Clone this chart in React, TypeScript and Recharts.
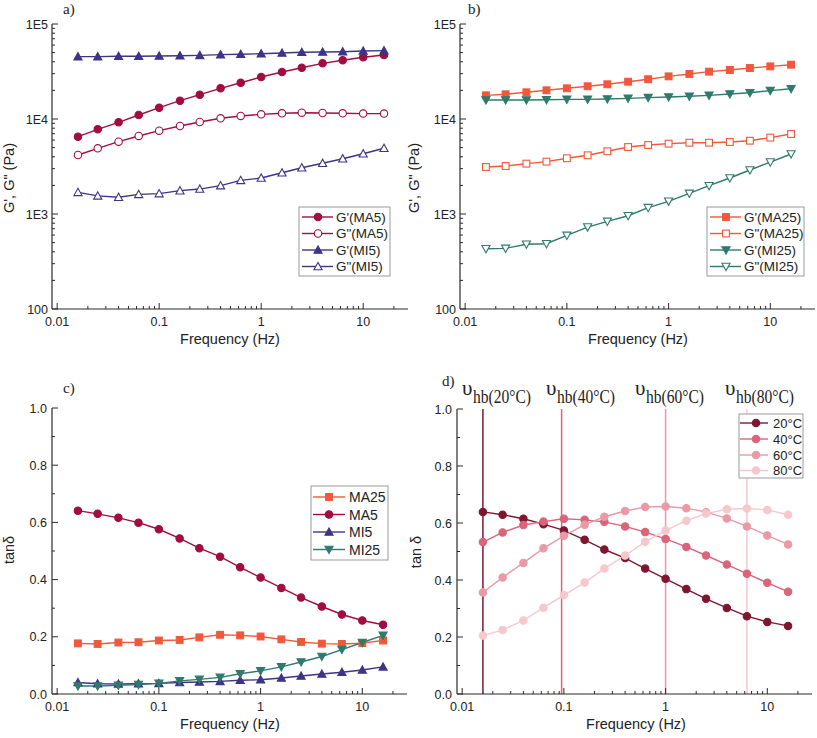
import React from "react";
import { LineChart, Line, XAxis, YAxis, ReferenceLine } from "recharts";

// frequency sweep (Hz)
const freq = [0.016, 0.025, 0.04, 0.063, 0.1, 0.16, 0.25, 0.4, 0.63, 1, 1.6, 2.5, 4, 6.3, 10, 16];

// a) moduli, 5 wt%
const gpMA5 = [6510, 7790, 9230, 11020, 13150, 15590, 18020, 21040, 24100, 27680, 31240, 34670, 38560, 41490, 44600, 47180];
const gppMA5 = [4180, 4910, 5770, 6630, 7540, 8440, 9300, 10170, 10770, 11200, 11480, 11650, 11560, 11480, 11400, 11400];
const gpMI5 = [45300, 45300, 45700, 45700, 46000, 46400, 46800, 47600, 48000, 48700, 49500, 50400, 50700, 51100, 52000, 52400];
const gppMI5 = [1690, 1550, 1500, 1610, 1640, 1760, 1830, 1990, 2260, 2390, 2720, 3070, 3420, 3820, 4310, 4920];

// b) moduli, 25 wt%
const gpMA25 = [17750, 18200, 19100, 20050, 21040, 22100, 23200, 24700, 26200, 28100, 29800, 31500, 32800, 34400, 35800, 37300];
const gppMA25 = [3125, 3200, 3390, 3560, 3860, 4150, 4570, 5070, 5320, 5500, 5630, 5630, 5730, 5910, 6370, 6950];
const gpMI25 = [15850, 15850, 15850, 15970, 16100, 16100, 16240, 16500, 16780, 17050, 17330, 17750, 18330, 18920, 19870, 20840];
const gppMI25 = [431, 435, 480, 487, 596, 729, 837, 959, 1166, 1360, 1650, 1986, 2393, 2904, 3520, 4280];

// c) tan delta
const tanMA25 = [0.177, 0.175, 0.18, 0.181, 0.187, 0.189, 0.198, 0.207, 0.205, 0.201, 0.191, 0.182, 0.176, 0.175, 0.178, 0.187];
const tanMA5 = [0.641, 0.63, 0.616, 0.599, 0.576, 0.544, 0.51, 0.48, 0.443, 0.407, 0.371, 0.337, 0.306, 0.278, 0.257, 0.242];
const tanMI5 = [0.04, 0.036, 0.035, 0.036, 0.037, 0.04, 0.042, 0.044, 0.048, 0.05, 0.056, 0.063, 0.07, 0.076, 0.084, 0.095];
const tanMI25 = [0.028, 0.028, 0.03, 0.033, 0.037, 0.046, 0.051, 0.058, 0.071, 0.081, 0.095, 0.112, 0.131, 0.155, 0.18, 0.205];

// d) tan delta vs temperature
const tan20 = [0.639, 0.629, 0.615, 0.596, 0.574, 0.541, 0.507, 0.477, 0.44, 0.404, 0.368, 0.334, 0.302, 0.273, 0.253, 0.239];
const tan40 = [0.533, 0.567, 0.593, 0.605, 0.615, 0.611, 0.604, 0.588, 0.568, 0.544, 0.516, 0.486, 0.454, 0.422, 0.39, 0.359];
const tan60 = [0.356, 0.409, 0.46, 0.511, 0.555, 0.594, 0.622, 0.642, 0.656, 0.658, 0.652, 0.638, 0.616, 0.588, 0.556, 0.525];
const tan80 = [0.205, 0.225, 0.258, 0.303, 0.347, 0.391, 0.44, 0.486, 0.534, 0.574, 0.608, 0.633, 0.648, 0.651, 0.646, 0.629];
const hbFreq = [0.016, 0.095, 1, 6.3];
const hbTemps = ["20°C", "40°C", "60°C", "80°C"];

// axis ticks
const xTicks = [
  0.01, 0.02, 0.03, 0.04, 0.05, 0.06, 0.07, 0.08, 0.09,
  0.1, 0.2, 0.3, 0.4, 0.5, 0.6, 0.7, 0.8, 0.9,
  1, 2, 3, 4, 5, 6, 7, 8, 9, 10, 20,
];
const xMajor = [0.01, 0.1, 1, 10];
const logYTicks = [
  100, 200, 300, 400, 500, 600, 700, 800, 900,
  1000, 2000, 3000, 4000, 5000, 6000, 7000, 8000, 9000,
  10000, 20000, 30000, 40000, 50000, 60000, 70000, 80000, 90000, 100000,
];
const logYLabels: Record<number, string> = { 100: "100", 1000: "1E3", 10000: "1E4", 100000: "1E5" };
const linYTicks = [0, 0.1, 0.2, 0.3, 0.4, 0.5, 0.6, 0.7, 0.8, 0.9, 1];

const X_DOMAIN = [0.0089, 27.5];
const AXIS = "#2a2a2a";
const SANS = "'Liberation Sans', Arial, sans-serif";
const SERIF = "'Liberation Serif', 'Times New Roman', serif";

const C_MA5 = "#a10d40";
const C_MI5 = "#3e3486";
const C_MA25 = "#f0583c";
const C_MI25 = "#2e7b6c";
const C_T = ["#7e1630", "#da6479", "#e99aa7", "#f7c7ce"];

type Shape = "circle" | "square" | "up" | "down";
interface Series {
  key: string;
  name: string;
  color: string;
  shape: Shape;
  filled: boolean;
}

function Marker({ cx, cy, shape, color, filled, r = 3.7 }: { cx: number; cy: number; shape: Shape; color: string; filled: boolean; r?: number }) {
  const fill = filled ? color : "#fff";
  const sw = 1.1;
  if (shape === "circle") return <circle cx={cx} cy={cy} r={r} fill={fill} stroke={color} strokeWidth={sw} />;
  if (shape === "square")
    return <rect x={cx - r + 0.3} y={cy - r + 0.3} width={2 * r - 0.6} height={2 * r - 0.6} fill={fill} stroke={color} strokeWidth={sw} />;
  const h = r * 1.1;
  if (shape === "up")
    return <polygon points={`${cx},${cy - h} ${cx - r * 1.1},${cy + h * 0.8} ${cx + r * 1.1},${cy + h * 0.8}`} fill={fill} stroke={color} strokeWidth={sw} />;
  return <polygon points={`${cx},${cy + h} ${cx - r * 1.1},${cy - h * 0.8} ${cx + r * 1.1},${cy - h * 0.8}`} fill={fill} stroke={color} strokeWidth={sw} />;
}

function renderXTick(p: any) {
  const { x, y, payload } = p;
  const v = payload.value;
  const major = xMajor.some((m) => Math.abs(v - m) / m < 1e-6);
  return (
    <g>
      <line x1={x} x2={x} y1={y} y2={y - (major ? 6 : 3)} stroke={AXIS} strokeWidth={1} />
      {major ? (
        <text x={x} y={y + 17} textAnchor="middle" fontSize={12.5} fontFamily={SANS} fill="#222">
          {String(v)}
        </text>
      ) : null}
    </g>
  );
}

function renderLogYTick(p: any) {
  const { x, y, payload } = p;
  const label = logYLabels[payload.value];
  return (
    <g>
      <line x1={x} x2={x + (label ? 6 : 3)} y1={y} y2={y} stroke={AXIS} strokeWidth={1} />
      {label ? (
        <text x={x - 4} y={y + 4.5} textAnchor="end" fontSize={12.5} fontFamily={SANS} fill="#222">
          {label}
        </text>
      ) : null}
    </g>
  );
}

function renderLinYTick(p: any) {
  const { x, y, payload } = p;
  const v = payload.value;
  const major = Math.round(v * 10) % 2 === 0;
  return (
    <g>
      <line x1={x} x2={x + (major ? 6 : 3)} y1={y} y2={y} stroke={AXIS} strokeWidth={1} />
      {major ? (
        <text x={x - 5} y={y + 4.5} textAnchor="end" fontSize={12.5} fontFamily={SANS} fill="#222">
          {v.toFixed(1)}
        </text>
      ) : null}
    </g>
  );
}

interface PanelProps {
  left: number;
  top: number;
  width: number;
  height: number;
  margin: { top: number; right: number; bottom: number; left: number };
  xAxisH: number;
  log: boolean;
  data: Record<string, number>[];
  series: Series[];
  children?: React.ReactNode;
}

function Panel({ left, top, width, height, margin, xAxisH, log, data, series, children }: PanelProps) {
  return (
    <div style={{ position: "absolute", left, top }}>
      <LineChart width={width} height={height} data={data} margin={margin}>
        <XAxis
          dataKey="f"
          type="number"
          scale="log"
          domain={X_DOMAIN}
          allowDataOverflow
          ticks={xTicks}
          interval={0}
          tickLine={false}
          tickSize={0}
          tickMargin={0}
          height={xAxisH}
          axisLine={{ stroke: AXIS, strokeWidth: 1.2 }}
          tick={renderXTick}
        />
        <XAxis xAxisId="top" orientation="top" type="number" scale="log" domain={X_DOMAIN} allowDataOverflow height={0} tick={false} tickLine={false} axisLine={{ stroke: AXIS, strokeWidth: 1.2 }} />
        {log ? (
          <YAxis
            type="number"
            scale="log"
            domain={[100, 100000]}
            allowDataOverflow
            ticks={logYTicks}
            interval={0}
            width={52}
            tickLine={false}
            tickSize={0}
            tickMargin={0}
            axisLine={{ stroke: AXIS, strokeWidth: 1.2 }}
            tick={renderLogYTick}
          />
        ) : (
          <YAxis
            type="number"
            domain={[0, 1]}
            allowDataOverflow
            ticks={linYTicks}
            interval={0}
            width={52}
            tickLine={false}
            tickSize={0}
            tickMargin={0}
            axisLine={{ stroke: AXIS, strokeWidth: 1.2 }}
            tick={renderLinYTick}
          />
        )}
        <YAxis yAxisId="right" orientation="right" width={0} tick={false} tickLine={false} axisLine={{ stroke: AXIS, strokeWidth: 1.2 }} />
        {children}
        {series.map((s) => (
          <Line
            key={s.key}
            dataKey={s.key}
            stroke={s.color}
            strokeWidth={1.4}
            isAnimationActive={false}
            dot={(p: any) => (
              <Marker key={`${s.key}-${p.index}`} cx={p.cx} cy={p.cy} shape={s.shape} color={s.color} filled={s.filled} />
            )}
            activeDot={false}
          />
        ))}
      </LineChart>
    </div>
  );
}

function LegendBox({ x, y, w, h, rowY, series, lineX, markX, textX, fontSize }: { x: number; y: number; w: number; h: number; rowY: number[]; series: Series[]; lineX: [number, number]; markX: number; textX: number; fontSize: number }) {
  return (
    <g>
      <rect x={x} y={y} width={w} height={h} fill="#fff" stroke="#9a9a9a" strokeWidth={1} />
      {series.map((s, i) => (
        <g key={s.key}>
          <line x1={x + lineX[0]} x2={x + lineX[1]} y1={rowY[i]} y2={rowY[i]} stroke={s.color} strokeWidth={1.4} />
          <Marker cx={x + markX} cy={rowY[i]} shape={s.shape} color={s.color} filled={s.filled} />
          <text x={x + textX} y={rowY[i] + fontSize * 0.36} fontSize={fontSize} fontFamily={SANS} fill="#222">
            {s.name}
          </text>
        </g>
      ))}
    </g>
  );
}

const rowsA = freq.map((f, i) => ({ f, gpMA5: gpMA5[i], gppMA5: gppMA5[i], gpMI5: gpMI5[i], gppMI5: gppMI5[i] }));
const rowsB = freq.map((f, i) => ({ f, gpMA25: gpMA25[i], gppMA25: gppMA25[i], gpMI25: gpMI25[i], gppMI25: gppMI25[i] }));
const rowsC = freq.map((f, i) => ({ f, MA25: tanMA25[i], MA5: tanMA5[i], MI5: tanMI5[i], MI25: tanMI25[i] }));
const rowsD = freq.map((f, i) => ({ f, t20: tan20[i], t40: tan40[i], t60: tan60[i], t80: tan80[i] }));

const seriesA: Series[] = [
  { key: "gpMA5", name: "G'(MA5)", color: C_MA5, shape: "circle", filled: true },
  { key: "gppMA5", name: 'G"(MA5)', color: C_MA5, shape: "circle", filled: false },
  { key: "gpMI5", name: "G'(MI5)", color: C_MI5, shape: "up", filled: true },
  { key: "gppMI5", name: 'G"(MI5)', color: C_MI5, shape: "up", filled: false },
];
const seriesB: Series[] = [
  { key: "gpMA25", name: "G'(MA25)", color: C_MA25, shape: "square", filled: true },
  { key: "gppMA25", name: 'G"(MA25)', color: C_MA25, shape: "square", filled: false },
  { key: "gpMI25", name: "G'(MI25)", color: C_MI25, shape: "down", filled: true },
  { key: "gppMI25", name: 'G"(MI25)', color: C_MI25, shape: "down", filled: false },
];
const seriesC: Series[] = [
  { key: "MA25", name: "MA25", color: C_MA25, shape: "square", filled: true },
  { key: "MA5", name: "MA5", color: C_MA5, shape: "circle", filled: true },
  { key: "MI5", name: "MI5", color: C_MI5, shape: "up", filled: true },
  { key: "MI25", name: "MI25", color: C_MI25, shape: "down", filled: true },
];
const seriesD: Series[] = ["t20", "t40", "t60", "t80"].map((key, i) => ({
  key,
  name: hbTemps[i],
  color: C_T[i],
  shape: "circle" as Shape,
  filled: true,
}));

const hbX = [462, 546, 635, 725];

export default function App() {
  return (
    <div style={{ position: "absolute", left: 0, top: 0, width: 817, height: 738, background: "#fff", overflow: "hidden" }}>
      <Panel left={0} top={0} width={410} height={340} margin={{ top: 24, right: 2, bottom: 0, left: 0 }} xAxisH={31} log data={rowsA} series={seriesA} />
      <Panel left={408} top={0} width={409} height={340} margin={{ top: 24, right: 2, bottom: 0, left: 0 }} xAxisH={31} log data={rowsB} series={seriesB} />
      <Panel left={0} top={380} width={410} height={358} margin={{ top: 28, right: 3, bottom: 0, left: 0 }} xAxisH={44} log={false} data={rowsC} series={seriesC} />
      <Panel left={405} top={380} width={412} height={358} margin={{ top: 29, right: 5, bottom: 0, left: 0 }} xAxisH={44} log={false} data={rowsD} series={seriesD}>
        {hbFreq.map((f, i) => (
          <ReferenceLine key={f} x={f} stroke={C_T[i]} strokeWidth={1.5} />
        ))}
      </Panel>
      <svg width={817} height={738} style={{ position: "absolute", left: 0, top: 0, pointerEvents: "none" }}>
        {/* panel letters */}
        <text x={63} y={14} fontSize={15} fontFamily={SERIF} fill="#222">a)</text>
        <text x={468} y={14} fontSize={15} fontFamily={SERIF} fill="#222">b)</text>
        <text x={63} y={393} fontSize={15} fontFamily={SERIF} fill="#222">c)</text>
        <text x={442} y={386} fontSize={15} fontFamily={SERIF} fill="#222">d)</text>

        {/* axis titles */}
        <text x={230} y={344} textAnchor="middle" fontSize={14.5} fontFamily={SANS} fill="#222">Frequency (Hz)</text>
        <text x={638} y={344} textAnchor="middle" fontSize={14.5} fontFamily={SANS} fill="#222">Frequency (Hz)</text>
        <text x={230} y={729} textAnchor="middle" fontSize={14.5} fontFamily={SANS} fill="#222">Frequency (Hz)</text>
        <text x={636} y={729} textAnchor="middle" fontSize={14.5} fontFamily={SANS} fill="#222">Frequency (Hz)</text>
        <text transform="translate(14,178) rotate(-90)" textAnchor="middle" fontSize={14.5} fontFamily={SANS} fill="#222">G', G" (Pa)</text>
        <text transform="translate(419,178) rotate(-90)" textAnchor="middle" fontSize={14.5} fontFamily={SANS} fill="#222">G', G" (Pa)</text>
        <text transform="translate(14,550) rotate(-90)" textAnchor="middle" fontSize={14.5} fontFamily={SANS} fill="#222">tanδ</text>
        <text transform="translate(421,552) rotate(-90)" textAnchor="middle" fontSize={14.5} fontFamily={SANS} fill="#222">tan δ</text>

        {/* hydrogen-bond relaxation frequency labels */}
        {hbTemps.map((t, i) => (
          <g key={t}>
            <text x={hbX[i]} y={395} fontSize={21} fontFamily={SERIF} fill="#222">υ</text>
            <text x={hbX[i] + 11} y={403} fontSize={18} fontFamily={SERIF} fill="#222" textLength={58} lengthAdjust="spacingAndGlyphs">
              {`hb(${t})`}
            </text>
          </g>
        ))}

        {/* legends */}
        <LegendBox x={299} y={207} w={91} h={69} rowY={[217, 233.5, 250, 266.5]} series={seriesA} lineX={[3, 34]} markX={19} textX={37} fontSize={13.5} />
        <LegendBox x={707} y={207} w={97} h={69} rowY={[217, 233.5, 250, 266.5]} series={seriesB} lineX={[3, 34]} markX={19} textX={37} fontSize={13.5} />
        <LegendBox x={311} y={486} w={77} h={74} rowY={[497, 514.5, 532, 549.5]} series={seriesC} lineX={[2, 34]} markX={18} textX={38} fontSize={14} />
        <LegendBox x={739} y={414} w={64} h={64} rowY={[423, 439, 455, 470.5]} series={seriesD} lineX={[1, 29]} markX={17} textX={34} fontSize={13} />
      </svg>
    </div>
  );
}
